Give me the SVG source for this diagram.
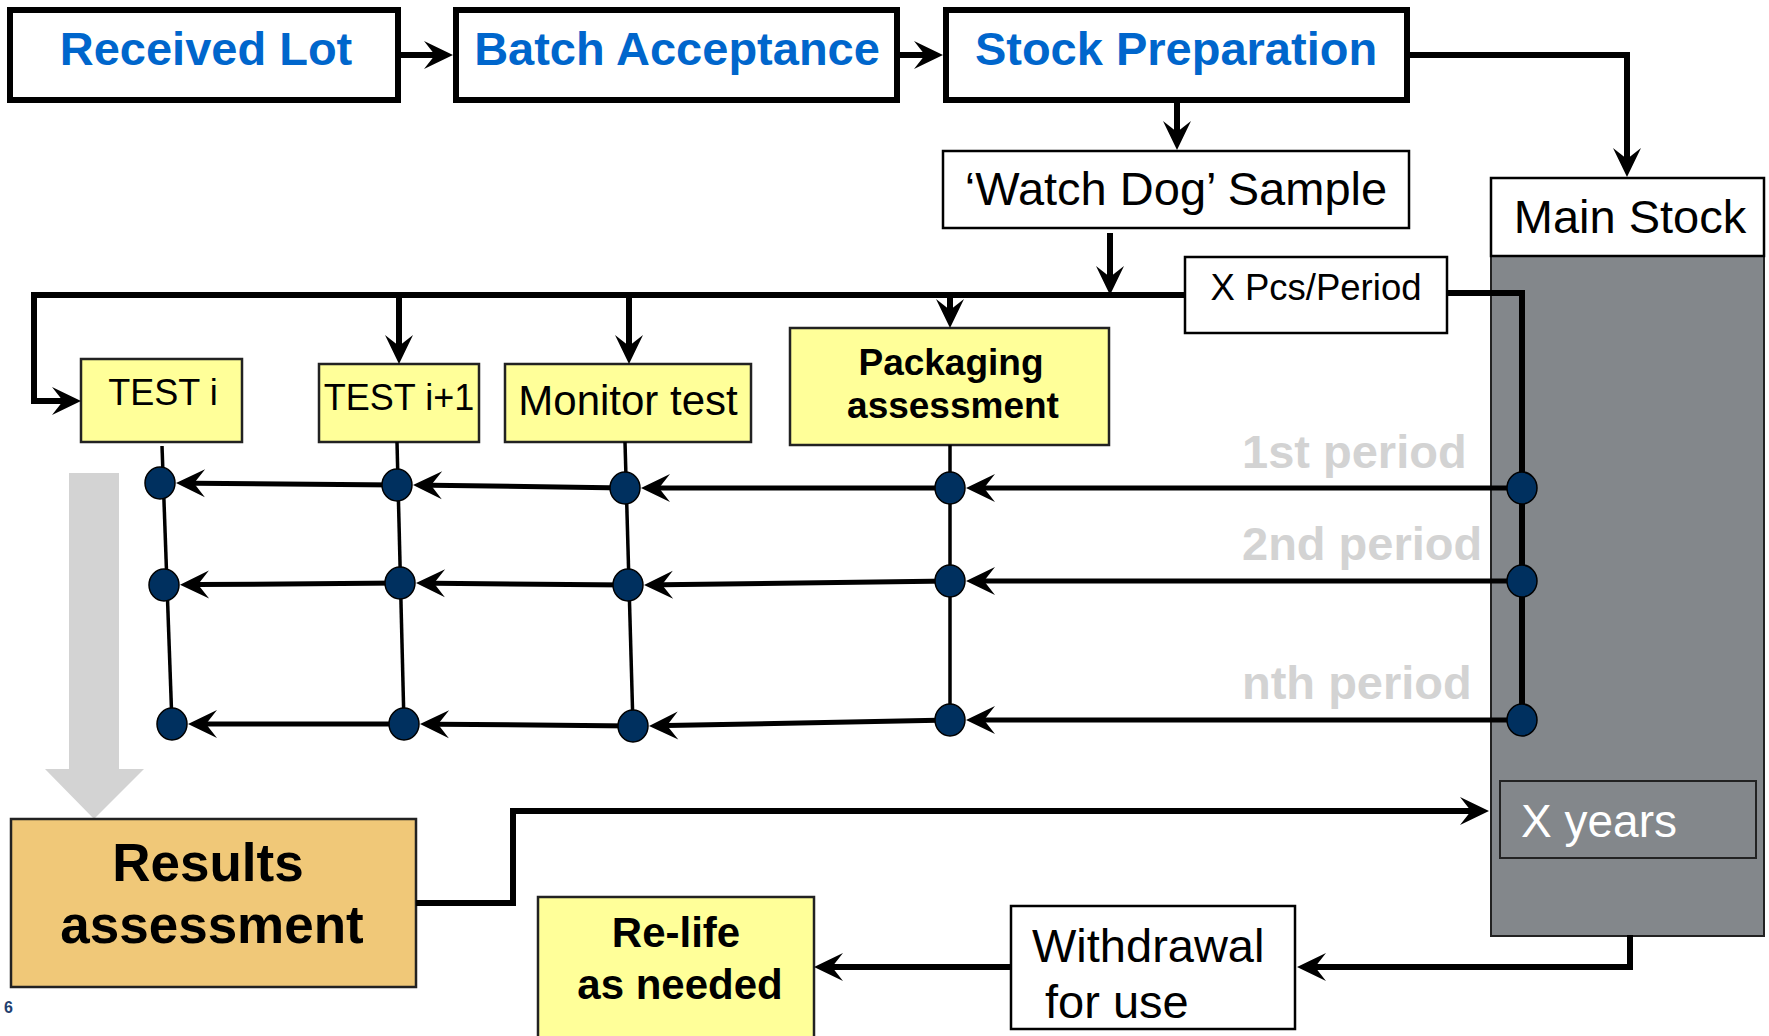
<svg xmlns="http://www.w3.org/2000/svg" width="1769" height="1036" viewBox="0 0 1769 1036">
<style>
.top{fill:#fff;stroke:#000;stroke-width:6}
.box{fill:#fff;stroke:#000;stroke-width:2.5}
.yel{fill:#FFFF99;stroke:#222;stroke-width:2.5}
.t{font-family:"Liberation Sans",Arial,sans-serif}
.blue{fill:#0066CC;font-weight:bold;font-size:47px}
.b{font-weight:bold}
.per{fill:#D3D3D3;font-weight:bold;font-size:47px}
.c{fill:none;stroke:#000;stroke-width:6}
.h{fill:none;stroke:#000;stroke-width:5}
.v{fill:none;stroke:#000;stroke-width:3.5}
.dot{fill:#00305F;stroke:#000;stroke-width:1.5}
</style>
<defs>
<marker id="ah" viewBox="-12 -15 31 30" markerWidth="31" markerHeight="30" refX="0" refY="0" orient="auto" markerUnits="userSpaceOnUse">
<path d="M18,0 L-11,-14 L0,0 L-11,14 Z" fill="#000"/>
</marker>
</defs>

<g id="grey-arrow">
<path d="M69,473 H119 V769 H144 L94,819 L45,769 H69 Z" fill="#D3D3D3"/>
</g>

<g id="received-lot">
<rect class="top" x="10" y="10" width="388" height="90"/>
<text class="t blue" x="206" y="65" text-anchor="middle">Received Lot</text>
</g>
<g id="batch-acceptance">
<rect class="top" x="456" y="10" width="441" height="90"/>
<text class="t blue" x="677" y="65" text-anchor="middle">Batch Acceptance</text>
</g>
<g id="stock-preparation">
<rect class="top" x="946" y="10" width="461" height="90"/>
<text class="t blue" x="1176" y="65" text-anchor="middle">Stock Preparation</text>
</g>
<g id="watch-dog">
<rect class="box" x="943" y="151" width="466" height="77"/>
<text class="t" x="1176" y="205" text-anchor="middle" font-size="47">‘Watch Dog’ Sample</text>
</g>
<g id="main-stock">
<rect x="1491" y="256" width="273" height="680" fill="#83878B" stroke="#222" stroke-width="2"/>
<rect class="box" x="1491" y="178" width="273" height="78"/>
<text class="t" x="1630" y="233" text-anchor="middle" font-size="47">Main Stock</text>
</g>
<g id="x-years">
<rect x="1500" y="781" width="256" height="77" fill="#83878B" stroke="#222" stroke-width="2"/>
<text class="t" x="1521" y="837" font-size="46" fill="#fff">X years</text>
</g>
<g id="x-pcs">
<rect class="box" x="1185" y="257" width="262" height="76"/>
<text class="t" x="1316" y="300" text-anchor="middle" font-size="36.5">X Pcs/Period</text>
</g>
<g id="test-i">
<rect class="yel" x="81" y="359" width="161" height="83"/>
<text class="t" x="163" y="405" text-anchor="middle" font-size="36">TEST i</text>
</g>
<g id="test-i1">
<rect class="yel" x="319" y="364" width="160" height="78"/>
<text class="t" x="399" y="410" text-anchor="middle" font-size="36">TEST i+1</text>
</g>
<g id="monitor-test">
<rect class="yel" x="505" y="364" width="246" height="78"/>
<text class="t" x="628" y="415" text-anchor="middle" font-size="42">Monitor test</text>
</g>
<g id="packaging">
<rect class="yel" x="790" y="328" width="319" height="117"/>
<text class="t b" x="951" y="375" text-anchor="middle" font-size="37">Packaging</text>
<text class="t b" x="953" y="418" text-anchor="middle" font-size="37">assessment</text>
</g>
<g id="period-labels">
<text class="t per" x="1242" y="468">1st period</text>
<text class="t per" x="1242" y="560">2nd period</text>
<text class="t per" x="1242" y="699">nth period</text>
</g>
<g id="results">
<rect x="11" y="819" width="405" height="168" fill="#F0C878" stroke="#222" stroke-width="2.5"/>
<text class="t b" x="208" y="881" text-anchor="middle" font-size="53">Results</text>
<text class="t b" x="212" y="943" text-anchor="middle" font-size="53">assessment</text>
</g>
<g id="relife">
<rect class="yel" x="538" y="897" width="276" height="145"/>
<text class="t b" x="676" y="947" text-anchor="middle" font-size="42">Re-life</text>
<text class="t b" x="680" y="999" text-anchor="middle" font-size="42">as needed</text>
</g>
<g id="withdrawal">
<rect class="box" x="1011" y="906" width="284" height="123"/>
<text class="t" x="1032" y="962" font-size="47">Withdrawal</text>
<text class="t" x="1032" y="1018" font-size="47" xml:space="preserve"> for use</text>
</g>
<g id="page-num">
<text class="t b" x="4" y="1013" font-size="16" fill="#1F3F6F">6</text>
</g>

<g id="connectors">
<path class="c" d="M401,55 H435" marker-end="url(#ah)"/>
<path class="c" d="M900,55 H925" marker-end="url(#ah)"/>
<path class="c" d="M1177,103 V132" marker-end="url(#ah)"/>
<path class="c" d="M1409,55 H1627 V159" marker-end="url(#ah)"/>
<path class="c" d="M1110,233 V277" marker-end="url(#ah)"/>
<path class="c" d="M1185,295 H34 V401 H63" marker-end="url(#ah)"/>
<path class="c" d="M399,295 V346" marker-end="url(#ah)"/>
<path class="c" d="M629,295 V346" marker-end="url(#ah)"/>
<path class="c" d="M950,295 V310" marker-end="url(#ah)"/>
<path class="c" d="M1448,293 H1522 V705"/>
<path class="c" d="M416,903 H513 V811 H1471" marker-end="url(#ah)"/>
<path class="c" d="M1630,935 V967 H1315" marker-end="url(#ah)"/>
<path class="c" d="M1011,967 H832" marker-end="url(#ah)"/>

<path class="v" d="M162,446 L172,724"/>
<path class="v" d="M397,442 L404,724"/>
<path class="v" d="M625,442 L633,726"/>
<path class="v" d="M950,445 L950,720"/>

<path class="h" d="M1522,488 H984" marker-end="url(#ah)"/>
<path class="h" d="M950,488 H659" marker-end="url(#ah)"/>
<path class="h" d="M625,488 L431,485.2" marker-end="url(#ah)"/>
<path class="h" d="M397,485 L194,483.2" marker-end="url(#ah)"/>

<path class="h" d="M1522,581 H984" marker-end="url(#ah)"/>
<path class="h" d="M950,581 L662,584.8" marker-end="url(#ah)"/>
<path class="h" d="M628,585 L434,583.2" marker-end="url(#ah)"/>
<path class="h" d="M400,583 L198,584.6" marker-end="url(#ah)"/>

<path class="h" d="M1522,720 H984" marker-end="url(#ah)"/>
<path class="h" d="M950,720 L667,725.6" marker-end="url(#ah)"/>
<path class="h" d="M633,726 L438,724.2" marker-end="url(#ah)"/>
<path class="h" d="M404,724 L206,724" marker-end="url(#ah)"/>
</g>

<g id="dots">
<ellipse class="dot" cx="160" cy="483" rx="15" ry="16"/>
<ellipse class="dot" cx="164" cy="585" rx="15" ry="16"/>
<ellipse class="dot" cx="172" cy="724" rx="15" ry="16"/>
<ellipse class="dot" cx="397" cy="485" rx="15" ry="16"/>
<ellipse class="dot" cx="400" cy="583" rx="15" ry="16"/>
<ellipse class="dot" cx="404" cy="724" rx="15" ry="16"/>
<ellipse class="dot" cx="625" cy="488" rx="15" ry="16"/>
<ellipse class="dot" cx="628" cy="585" rx="15" ry="16"/>
<ellipse class="dot" cx="633" cy="726" rx="15" ry="16"/>
<ellipse class="dot" cx="950" cy="488" rx="15" ry="16"/>
<ellipse class="dot" cx="950" cy="581" rx="15" ry="16"/>
<ellipse class="dot" cx="950" cy="720" rx="15" ry="16"/>
<ellipse class="dot" cx="1522" cy="488" rx="15" ry="16"/>
<ellipse class="dot" cx="1522" cy="581" rx="15" ry="16"/>
<ellipse class="dot" cx="1522" cy="720" rx="15" ry="16"/>
</g>
</svg>
